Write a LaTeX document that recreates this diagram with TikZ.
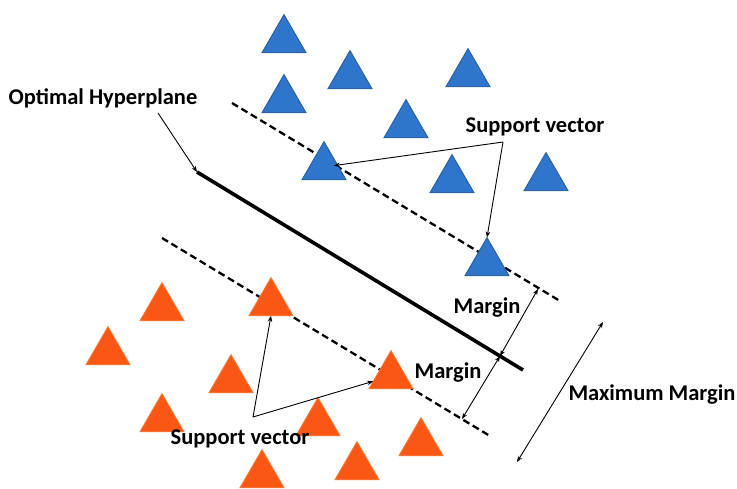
\documentclass[tikz,border=0pt]{standalone}
\usepackage{fontspec}
\setmainfont{Carlito}
\usepackage{tikz}
\usetikzlibrary{arrows.meta,shapes.geometric}
\definecolor{svmblue}{HTML}{2E75CB}
\definecolor{svmblueedge}{HTML}{2B5C95}
\definecolor{svmorange}{HTML}{FA5714}
\definecolor{svmorangeedge}{HTML}{F2813E}
\newcommand{\svmpoint}[3]{
  \node[point,fill=#3,draw=#3edge] (#1) at #2 {};
}

\begin{document}
\begin{tikzpicture}[x=1pt,y=-1pt,>={Stealth[length=6pt,width=4.5pt]},
  point/.style={regular polygon,regular polygon sides=3,minimum size=51pt,inner sep=0pt,outer sep=0pt,line width=0.8pt},
  lbl/.style={font=\bfseries\fontsize{22.5}{24}\selectfont,inner sep=0pt},
  marginline/.style={line width=2.3pt,dash pattern=on 7pt off 4pt},
  pointer/.style={->,line width=0.9pt}]
  \clip (0,0) rectangle (737,488);
  % hyperplane and the two margin lines
  \coordinate (hp1) at (197,172);
  \coordinate (hp2) at (523,370);
  \coordinate (up1) at (232,103);
  \coordinate (up2) at (560,301);
  \coordinate (lo1) at (162,238);
  \coordinate (lo2) at (490,436);
  \draw[line width=3.6pt] (hp1) -- (hp2);
  \draw[marginline] (up1) -- (up2);
  \draw[marginline] (lo1) -- (lo2);
  % class one
  \svmpoint{b1}{(284,40)}{svmblue}
  \svmpoint{b2}{(350,76)}{svmblue}
  \svmpoint{b3}{(284,100)}{svmblue}
  \svmpoint{b4}{(468,74)}{svmblue}
  \svmpoint{b5}{(406,125)}{svmblue}
  \svmpoint{b6}{(324,167)}{svmblue}
  \svmpoint{b7}{(452,180)}{svmblue}
  \svmpoint{b8}{(546,178)}{svmblue}
  \svmpoint{b9}{(487,263)}{svmblue}
  % class two
  \svmpoint{o1}{(162,308)}{svmorange}
  \svmpoint{o2}{(108,352)}{svmorange}
  \svmpoint{o3}{(271,303)}{svmorange}
  \svmpoint{o4}{(231,380)}{svmorange}
  \svmpoint{o5}{(162,419)}{svmorange}
  \svmpoint{o6}{(318,423)}{svmorange}
  \svmpoint{o7}{(262,475)}{svmorange}
  \svmpoint{o8}{(357,467)}{svmorange}
  \svmpoint{o9}{(391,376)}{svmorange}
  \svmpoint{o10}{(421,443)}{svmorange}
  % labels
  \node[lbl] (hptext) at (103,98) {Optimal Hyperplane};
  \node[lbl] (svtop) at (535,127) {Support vector};
  \node[lbl] (svbot) at (240,439) {Support vector};
  \node[lbl] (mtop) at (487,308) {Margin};
  \node[lbl] (mbot) at (448,373) {Margin};
  \node[lbl] (mmax) at (652,395) {Maximum Margin};
  % pointers
  \coordinate (hpa) at (158,113);
  \coordinate (svta) at (503,142);
  \coordinate (svba) at (253,417);
  \draw[pointer] (hpa) -- (hp1);
  \draw[pointer,shorten >=10pt] (svta) -- (b6.center);
  \draw[pointer] (svta) -- (b9.corner 1);
  \draw[pointer] (svba) -- (o3.south);
  \draw[pointer] (svba) -- (o9);
  % margin widths
  \coordinate (m1) at (538,289);
  \coordinate (m2) at (500,356);
  \coordinate (m3) at (462,419);
  \coordinate (mm1) at (603,322);
  \coordinate (mm2) at (517,462);
  \draw[<->,line width=0.9pt] (m1) -- (m2);
  \draw[<->,line width=0.9pt] (m2) -- (m3);
  \draw[<->,line width=0.9pt] (mm1) -- (mm2);
\end{tikzpicture}
\end{document}
